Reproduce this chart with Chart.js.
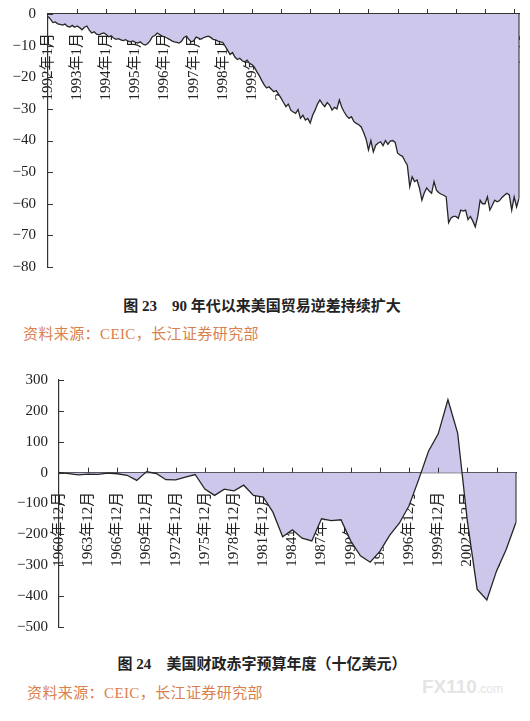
<!DOCTYPE html>
<html>
<head>
<meta charset="utf-8">
<script src="https://cdn.jsdelivr.net/npm/chart.js@4.4.1/dist/chart.umd.min.js"></script>
<style>
  body { margin: 0; background: #fff; width: 530px; height: 721px; position: relative; overflow: hidden; }
  canvas { position: absolute; left: 0; }
  .cap { position: absolute; left: 0; width: 524px; text-align: center; font: bold 15px/20px "Liberation Serif", "Noto Sans CJK SC", sans-serif; color: #222; }
  .cap span { font-family: "Noto Sans CJK SC", sans-serif; }
  .src { position: absolute; font: 15px/20px "Liberation Serif", "Noto Sans CJK SC", serif; color: #d9804e; letter-spacing: 0.4px; }
  .wm { position: absolute; left: 422px; top: 676px; color: #e4e4e4; font: bold 19px "Liberation Sans", sans-serif; }
  .wm small { font-size: 12px; font-weight: normal; }
</style>
</head>
<body>
<canvas id="trade" width="530" height="277" style="top:0"></canvas>
<div class="cap" style="top:295px">图 23&emsp;90 <span>年代以来美国贸易逆差持续扩大</span></div>
<div class="src" style="left:23px;top:324px">资料来源：CEIC，长江证券研究部</div>

<canvas id="budget" width="530" height="280" style="top:360px"></canvas>
<div class="cap" style="top:653px">图 24&emsp;<span>美国财政赤字预算年度（十亿美元）</span></div>
<div class="src" style="left:27px;top:683px">资料来源：CEIC，长江证券研究部</div>
<div class="wm">FX110<small>.com</small></div>

<script>
// 图23: monthly trade balance, 1992/1 - 2008/3
const tradeYears = [1992, 1993, 1994, 1995, 1996, 1997, 1998, 1999, 2000,
  2001, 2002, 2003, 2004, 2005, 2006, 2007, 2008];
const trade1992 = [-0.8, -1.6, -2.7, -2.5, -3.1, -3.3, -3.5, -3.2, -3.9, -4.1, -3.6, -4.2];
const trade1993 = [-3.8, -4.3, -5.0, -4.2, -3.8, -5.1, -6.0, -5.6, -6.4, -6.6, -6.2, -6.0];
const trade1994 = [-6.5, -7.2, -6.9, -7.6, -8.0, -7.8, -8.2, -8.4, -8.1, -8.6, -8.8, -8.5];
const trade1995 = [-9.0, -9.2, -8.8, -9.5, -9.8, -9.4, -8.5, -7.2, -6.8, -6.0, -6.5, -7.0];
const trade1996 = [-7.2, -7.6, -8.0, -8.5, -8.8, -9.0, -9.2, -8.6, -7.4, -7.0, -8.0, -8.8];
const trade1997 = [-8.5, -7.3, -7.6, -8.0, -7.5, -7.2, -7.0, -7.4, -8.0, -8.2, -8.6, -8.8];
const trade1998 = [-9.0, -10.2, -11.5, -12.8, -12.2, -13.6, -14.4, -14.0, -14.8, -15.2, -14.6, -15.6];
const trade1999 = [-16.0, -16.8, -18.2, -19.5, -21.0, -22.3, -23.4, -23.0, -23.8, -24.6, -24.2, -25.4];
const trade2000 = [-26.6, -28.0, -29.3, -28.5, -30.4, -31.0, -31.4, -30.2, -33.0, -32.0, -33.5, -33.0];
const trade2001 = [-34.5, -32.0, -30.4, -28.5, -27.2, -28.4, -29.3, -28.0, -28.8, -30.4, -29.5, -30.0];
const trade2002 = [-27.2, -29.5, -31.0, -32.2, -33.0, -32.5, -34.0, -34.6, -35.0, -35.7, -37.5, -39.5];
const trade2003 = [-43.0, -40.0, -43.6, -41.5, -40.8, -40.4, -41.6, -40.0, -41.2, -40.2, -40.0, -40.6];
const trade2004 = [-44.0, -44.6, -45.0, -46.5, -47.8, -54.6, -51.5, -53.0, -52.5, -55.0, -58.9, -56.5];
const trade2005 = [-55.0, -56.0, -56.7, -53.0, -55.7, -56.5, -57.0, -57.3, -57.8, -66.0, -64.5, -64.0];
const trade2006 = [-64.0, -64.6, -62.0, -62.3, -62.0, -65.0, -64.0, -65.5, -67.3, -64.0, -58.9, -60.0];
const trade2007 = [-60.0, -57.8, -62.0, -60.5, -58.9, -59.4, -59.0, -58.0, -57.3, -56.7, -57.2, -62.0];
const trade2008 = [-57.8, -61.0, -58.3];

// 图24: federal budget balance by fiscal year (billion USD)
const budgetYears = [1960, 1961, 1962, 1963, 1964, 1965, 1966, 1967, 1968, 1969,
  1970, 1971, 1972, 1973, 1974, 1975, 1976, 1977, 1978, 1979,
  1980, 1981, 1982, 1983, 1984, 1985, 1986, 1987, 1988, 1989,
  1990, 1991, 1992, 1993, 1994, 1995, 1996, 1997, 1998, 1999,
  2000, 2001, 2002, 2003, 2004, 2005, 2006, 2007];
const budgetBalance = [0.3, -3.3, -7.1, -4.8, -5.9, -1.4, -3.7, -8.6, -25.2, 3.2,
  -2.8, -23.0, -23.4, -14.9, -6.1, -53.2, -73.7, -53.7, -59.2, -40.7,
  -73.8, -79.0, -128.0, -207.8, -185.4, -212.3, -221.2, -149.7, -155.2, -152.6,
  -221.0, -269.2, -290.3, -255.1, -203.2, -164.0, -107.4, -21.9, 69.3, 125.6,
  236.2, 128.2, -157.8, -377.6, -412.7, -318.3, -248.2, -160.7];

const tradeByYear = [trade1992, trade1993, trade1994, trade1995, trade1996, trade1997,
  trade1998, trade1999, trade2000, trade2001, trade2002, trade2003, trade2004,
  trade2005, trade2006, trade2007, trade2008];
const tradeValues = [];
const tradeLabels = [];
tradeByYear.forEach((arr, i) => {
  arr.forEach((v, m) => {
    tradeValues.push(v);
    tradeLabels.push(tradeYears[i] + '年' + (m + 1) + '月');
  });
});
const budgetLabels = budgetYears.map(y => y + '年12月');

const AXIS = '#333';
const TICK_FONT = { family: '"Liberation Serif", "Noto Sans CJK SC", serif', size: 15 };

// closes the area on the right with a vertical edge back to zero
const edgePlugin = {
  id: 'edge',
  afterDatasetsDraw(chart) {
    const pts = chart.getDatasetMeta(0).data;
    const last = pts[pts.length - 1];
    const y0 = chart.scales.y.getPixelForValue(0);
    const ctx = chart.ctx;
    ctx.save();
    ctx.strokeStyle = '#444';
    ctx.lineWidth = 1.2;
    ctx.beginPath();
    ctx.moveTo(last.x, last.y);
    ctx.lineTo(last.x, y0);
    ctx.stroke();
    ctx.restore();
  }
};

// short tick marks: inward on the y axis, upward on the zero line
const tickMarks = {
  id: 'tickMarks',
  afterDraw(chart, args, opts) {
    const ctx = chart.ctx;
    const xs = chart.scales.x, ys = chart.scales.y;
    const y0 = ys.getPixelForValue(0);
    const left = chart.chartArea.left;
    ctx.save();
    ctx.strokeStyle = AXIS;
    ctx.lineWidth = 1;
    ctx.beginPath();
    ys.ticks.forEach((t, i) => {
      const y = Math.round(ys.getPixelForTick(i)) + 0.5;
      ctx.moveTo(left, y);
      ctx.lineTo(left + 5, y);
    });
    xs.ticks.forEach((t, i) => {
      if (i % opts.every !== 0 || i === 0) return;
      const x = Math.round(xs.getPixelForTick(i)) + 0.5;
      ctx.moveTo(x, y0);
      ctx.lineTo(x, y0 - 5);
    });
    ctx.stroke();
    ctx.restore();
  }
};

function noPadding(s) {
  s.paddingLeft = 0; s.paddingRight = 0;
  s.paddingTop = 0; s.paddingBottom = 0;
}

function makeChart(id, labels, values, yMin, yMax, yStep, every, yWidth, yPad, padding) {
  return new Chart(document.getElementById(id), {
    type: 'line',
    data: {
      labels: labels,
      datasets: [{
        data: values,
        borderColor: '#262626',
        borderWidth: 1.3,
        backgroundColor: '#cec7ec',
        fill: 'origin',
        pointRadius: 0,
        tension: 0,
      }],
    },
    options: {
      responsive: false,
      animation: false,
      layout: { padding: padding },
      plugins: {
        legend: { display: false },
        tooltip: { enabled: false },
        tickMarks: { every: every },
      },
      scales: {
        x: {
          type: 'category',
          position: { y: 0 },
          offset: false,
          z: 1,
          afterFit: noPadding,
          grid: { display: false, drawTicks: false },
          border: { color: AXIS, width: 1.2 },
          ticks: {
            autoSkip: false,
            minRotation: 90,
            maxRotation: 90,
            padding: 19,
            color: '#222',
            font: TICK_FONT,
            callback: function (v, i) {
              return i % every === 0 ? this.getLabelForValue(v) : '';
            },
          },
        },
        y: {
          min: yMin,
          max: yMax,
          afterFit: s => { noPadding(s); s.width = yWidth; },
          grid: { display: false, drawTicks: false },
          border: { color: AXIS, width: 1.2 },
          ticks: {
            stepSize: yStep,
            padding: yPad,
            color: '#222',
            font: TICK_FONT,
            callback: v => String(v).replace('-', '\u2212'),
          },
        },
      },
    },
    plugins: [edgePlugin, tickMarks],
  });
}

makeChart('trade', tradeLabels, tradeValues, -80, 0, 10, 12, 48, 12,
  { top: 14, right: 11, bottom: 10, left: 0 });
makeChart('budget', budgetLabels, budgetBalance, -500, 300, 100, 3, 59, 11,
  { top: 20, right: 14, bottom: 13, left: 0 });
</script>
</body>
</html>
